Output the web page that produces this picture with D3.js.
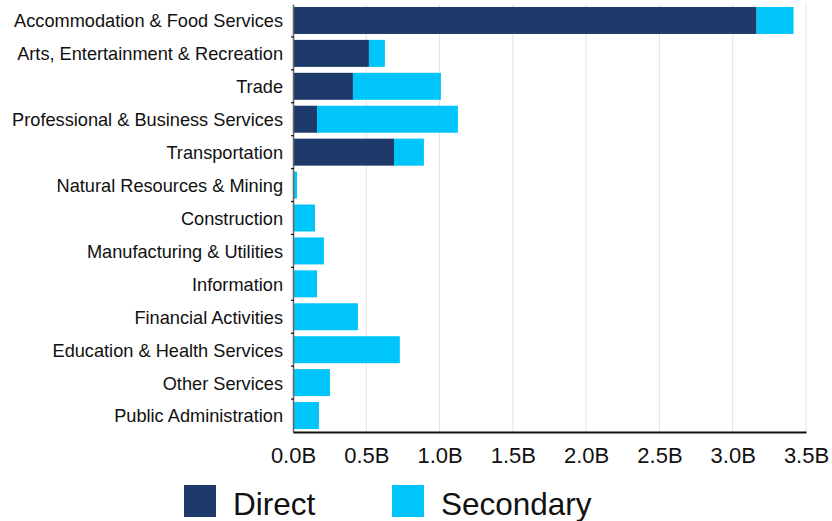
<!DOCTYPE html>
<html>
<head>
<meta charset="utf-8">
<script src="https://cdn.jsdelivr.net/npm/d3@7"></script>
<style>
  body { margin: 0; background: #fff; }
  text { font-family: "Liberation Sans", Arial, sans-serif; fill: #111; }
</style>
</head>
<body>
<div id="chart"></div>
<script>
const industries = [
  'Accommodation & Food Services',
  'Arts, Entertainment & Recreation',
  'Trade',
  'Professional & Business Services',
  'Transportation',
  'Natural Resources & Mining',
  'Construction',
  'Manufacturing & Utilities',
  'Information',
  'Financial Activities',
  'Education & Health Services',
  'Other Services',
  'Public Administration'
];
// billions of dollars
const direct = [3.163, 0.518, 0.409, 0.164, 0.689, 0, 0, 0, 0, 0, 0, 0, 0];
const secondary = [0.252, 0.109, 0.600, 0.961, 0.204, 0.027, 0.150, 0.211, 0.164, 0.443, 0.729, 0.252, 0.177];
const xTicks = [0, 0.5, 1, 1.5, 2, 2.5, 3, 3.5];
const seriesNames = ['Direct', 'Secondary'];
const colors = ['#1d3a6a', '#00c5fa'];

const width = 832, height = 521;
const margin = { top: 4, right: 26, bottom: 89, left: 293 };
const innerW = width - margin.left - margin.right;
const innerH = height - margin.top - margin.bottom;

const data = industries.map((name, i) => ({ name, Direct: direct[i], Secondary: secondary[i] }));
const stacked = d3.stack().keys(seriesNames)(data);

const svg = d3.select('#chart').append('svg')
  .attr('width', width)
  .attr('height', height);

const g = svg.append('g')
  .attr('transform', `translate(${margin.left}, ${margin.top})`);

const x = d3.scaleLinear().domain([0, 3.5]).range([0, innerW]);
const y = d3.scaleBand().domain(industries).range([0, innerH])
  .paddingInner(0.18).paddingOuter(0.09);

// gridlines
g.append('g')
  .selectAll('line')
  .data(xTicks.slice(1))
  .join('line')
  .attr('x1', d => x(d)).attr('x2', d => x(d))
  .attr('y1', 0).attr('y2', innerH)
  .attr('stroke', '#e3e3e3')
  .attr('stroke-width', 1);

// bars
g.selectAll('.series')
  .data(stacked)
  .join('g')
  .attr('class', 'series')
  .attr('fill', (d, i) => colors[i])
  .selectAll('rect')
  .data(d => d)
  .join('rect')
  .attr('x', d => x(d[0]))
  .attr('y', d => y(d.data.name))
  .attr('width', d => x(d[1]) - x(d[0]))
  .attr('height', y.bandwidth());

// y axis
const yAxis = g.append('g')
  .call(d3.axisLeft(y).tickSize(0).tickPadding(10));
yAxis.select('.domain').attr('stroke', '#666').attr('stroke-width', 1.5);
yAxis.selectAll('text').style('font-size', '18.2px').attr('dy', '0.38em').attr('fill', '#111');

// small ticks between bands
g.append('g')
  .selectAll('line')
  .data(industries.slice(1))
  .join('line')
  .attr('x1', -2).attr('x2', 1)
  .attr('y1', d => y(d) - y.step() * y.paddingInner() / 2)
  .attr('y2', d => y(d) - y.step() * y.paddingInner() / 2)
  .attr('stroke', '#111')
  .attr('stroke-width', 1.2);

// x axis
const xAxis = g.append('g')
  .attr('transform', `translate(0, ${innerH})`)
  .call(d3.axisBottom(x).tickValues(xTicks).tickSize(0).tickPadding(15)
    .tickFormat(d => d3.format('.1f')(d) + 'B'));
xAxis.select('.domain').attr('stroke', '#111').attr('stroke-width', 2);
xAxis.selectAll('text').style('font-size', '22px').attr('fill', '#111');

// legend
const legend = svg.append('g').attr('transform', 'translate(184, 485)');
const items = legend.selectAll('g')
  .data(seriesNames)
  .join('g')
  .attr('transform', (d, i) => `translate(${i * 208}, 0)`);
items.append('rect')
  .attr('width', 32).attr('height', 32)
  .attr('fill', (d, i) => colors[i]);
items.append('text')
  .attr('x', 49).attr('y', 30)
  .style('font-size', '31.5px')
  .text(d => d);
</script>
</body>
</html>
